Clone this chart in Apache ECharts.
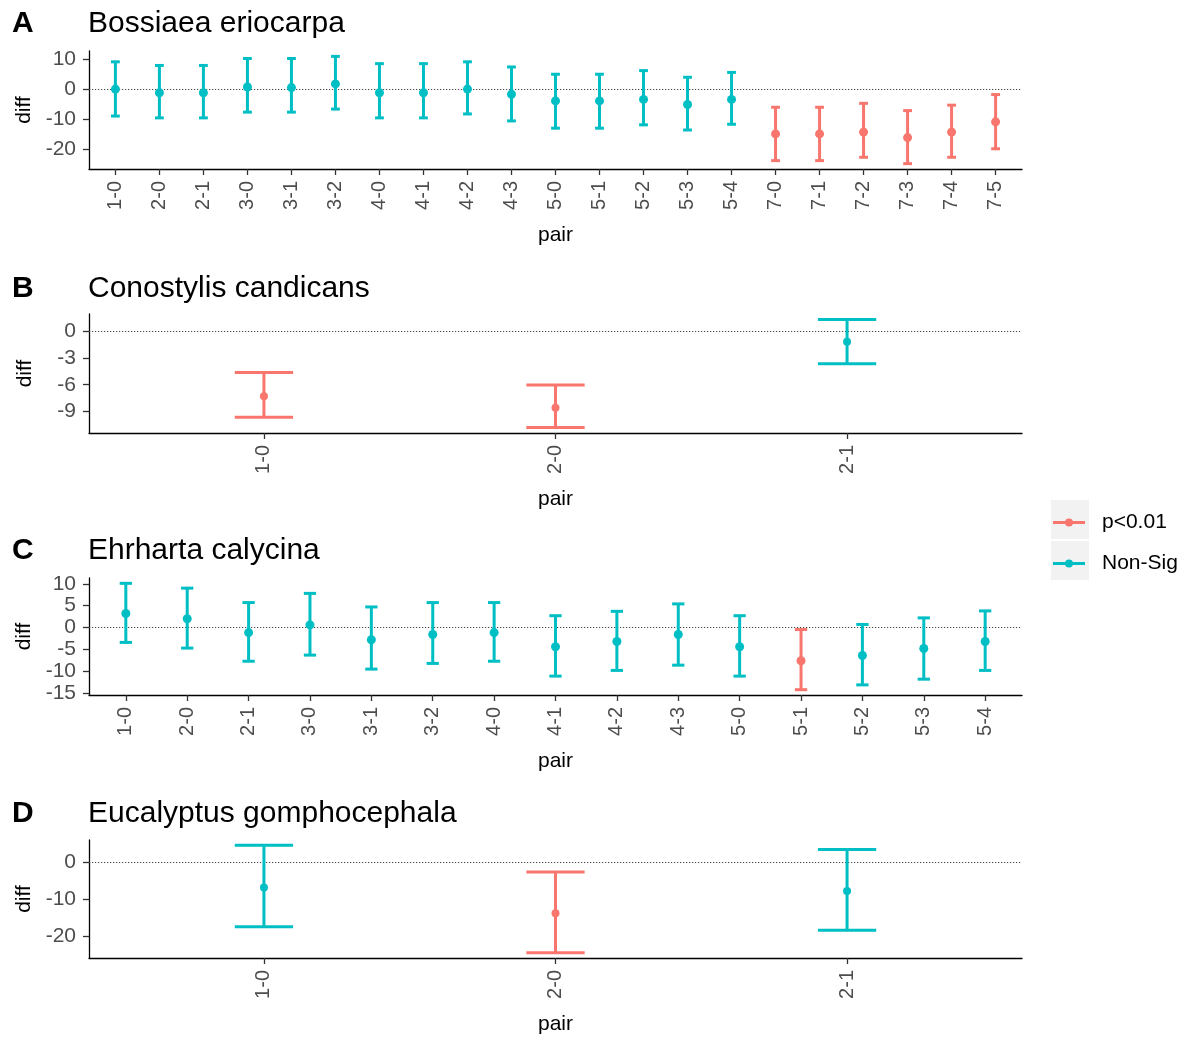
<!DOCTYPE html>
<html><head><meta charset="utf-8">
<script src="https://cdn.jsdelivr.net/npm/echarts@6/dist/echarts.min.js"></script>
<style>html,body{margin:0;padding:0;background:#fff}#c{width:1190px;height:1039px}</style>
</head><body><div id="c"></div>
<script>
// ---------- Data ----------
const pairsA = ['1-0','2-0','2-1','3-0','3-1','3-2','4-0','4-1','4-2','4-3','5-0','5-1','5-2','5-3','5-4','7-0','7-1','7-2','7-3','7-4','7-5'];
const diffA = [0, -1.2, -1.2, 0.7, 0.5, 1.7, -1.2, -1.2, 0, -1.7, -3.9, -3.9, -3.4, -5.1, -3.4, -14.8, -14.8, -14.2, -16.0, -14.2, -10.8];
const lwrA  = [-8.9, -9.5, -9.5, -7.6, -7.6, -6.6, -9.5, -9.5, -8.2, -10.5, -12.9, -12.9, -11.8, -13.5, -11.6, -23.6, -23.6, -22.5, -24.6, -22.5, -19.7];
const uprA  = [9.0, 7.8, 7.8, 10.1, 10.1, 10.8, 8.4, 8.4, 9.0, 7.3, 4.9, 4.9, 6.1, 3.9, 5.5, -6.0, -6.0, -4.7, -7.1, -5.3, -1.8];
const sigA  = ['Non-Sig','Non-Sig','Non-Sig','Non-Sig','Non-Sig','Non-Sig','Non-Sig','Non-Sig','Non-Sig','Non-Sig','Non-Sig','Non-Sig','Non-Sig','Non-Sig','Non-Sig','p<0.01','p<0.01','p<0.01','p<0.01','p<0.01','p<0.01'];
const ticksA = [-20, -10, 0, 10];

const pairsB = ['1-0','2-0','2-1'];
const diffB = [-7.3, -8.6, -1.17];
const lwrB  = [-9.66, -10.83, -3.64];
const uprB  = [-4.62, -6.02, 1.36];
const sigB  = ['p<0.01','p<0.01','Non-Sig'];
const ticksB = [-9, -6, -3, 0];

const pairsC = ['1-0','2-0','2-1','3-0','3-1','3-2','4-0','4-1','4-2','4-3','5-0','5-1','5-2','5-3','5-4'];
const diffC = [3.2, 2.0, -1.15, 0.6, -2.8, -1.6, -1.15, -4.4, -3.2, -1.6, -4.4, -7.6, -6.4, -4.8, -3.2];
const lwrC  = [-3.4, -4.7, -7.7, -6.3, -9.5, -8.2, -7.7, -11.1, -9.8, -8.6, -11.1, -14.2, -13.1, -11.8, -9.8];
const uprC  = [10.1, 9.0, 5.7, 7.8, 4.7, 5.7, 5.7, 2.7, 3.7, 5.4, 2.7, -0.46, 0.7, 2.2, 3.8];
const sigC  = ['Non-Sig','Non-Sig','Non-Sig','Non-Sig','Non-Sig','Non-Sig','Non-Sig','Non-Sig','Non-Sig','Non-Sig','Non-Sig','p<0.01','Non-Sig','Non-Sig','Non-Sig'];
const ticksC = [-15, -10, -5, 0, 5, 10];

const pairsD = ['1-0','2-0','2-1'];
const diffD = [-6.8, -13.8, -7.8];
const lwrD  = [-17.5, -24.5, -18.4];
const uprD  = [4.6, -2.6, 3.5];
const sigD  = ['Non-Sig','p<0.01','Non-Sig'];
const ticksD = [-20, -10, 0];

const groups = ['p<0.01', 'Non-Sig'];
const groupColors = {'p<0.01': '#F8766D', 'Non-Sig': '#00BFC4'};

// ---------- Layout ----------
const FONT = '"Liberation Sans", Arial, sans-serif';
const panels = [
  {letter:'A', title:'Bossiaea eriocarpa',      pairs:pairsA, diff:diffA, lwr:lwrA, upr:uprA, sig:sigA, ticks:ticksA, top:51,  height:118, titleTop:9,   r:4.5},
  {letter:'B', title:'Conostylis candicans',    pairs:pairsB, diff:diffB, lwr:lwrB, upr:uprB, sig:sigB, ticks:ticksB, top:314, height:119, titleTop:274, r:4},
  {letter:'C', title:'Ehrharta calycina',       pairs:pairsC, diff:diffC, lwr:lwrC, upr:uprC, sig:sigC, ticks:ticksC, top:578, height:117, titleTop:536, r:4.5},
  {letter:'D', title:'Eucalyptus gomphocephala', pairs:pairsD, diff:diffD, lwr:lwrD, upr:uprD, sig:sigD, ticks:ticksD, top:840, height:118, titleTop:799, r:4}
];

function renderBar(color, r) {
  return function (params, api) {
    const i = api.value(0);
    const c = api.coord([i, api.value(1)]);
    const lo = api.coord([i, api.value(2)]);
    const hi = api.coord([i, api.value(3)]);
    const hw = api.size([0.1, 0])[0];
    const st = {stroke: color, lineWidth: 3, fill: null};
    return {
      type: 'group',
      children: [
        {type: 'line', shape: {x1: c[0], y1: hi[1], x2: c[0], y2: lo[1]}, style: st},
        {type: 'line', shape: {x1: c[0] - hw, y1: hi[1], x2: c[0] + hw, y2: hi[1]}, style: st},
        {type: 'line', shape: {x1: c[0] - hw, y1: lo[1], x2: c[0] + hw, y2: lo[1]}, style: st},
        {type: 'circle', shape: {cx: c[0], cy: c[1], r: r}, style: {fill: color, stroke: null}}
      ]
    };
  };
}

const grid = [], xAxis = [], yAxis = [], series = [], title = [];
panels.forEach((p, k) => {
  const lo = Math.min(...p.lwr), hi = Math.max(...p.upr);
  const pad = (hi - lo) * 0.05;
  grid.push({left: 89, right: 168, top: p.top, height: p.height});
  const n = p.pairs.length;
  const idx = p.pairs.map((_, i) => i);
  xAxis.push({
    type: 'value', gridIndex: k, min: -0.6, max: n - 0.4,
    splitLine: {show: false},
    axisLine: {show: true, onZero: false, lineStyle: {color: '#000', width: 1.3}},
    axisTick: {show: true, customValues: idx, length: 6, lineStyle: {color: '#333', width: 1.3}},
    axisLabel: {customValues: idx, rotate: 90, margin: 12, fontSize: 20, color: '#4D4D4D', fontFamily: FONT,
      formatter: v => p.pairs[Math.round(v)]},
    name: 'pair', nameLocation: 'middle', nameGap: 56,
    nameTextStyle: {fontSize: 21, color: '#000', fontFamily: FONT}
  });
  yAxis.push({
    type: 'value', gridIndex: k, min: lo - pad, max: hi + pad,
    splitLine: {show: false},
    axisLine: {show: true, onZero: false, lineStyle: {color: '#000', width: 1.3}},
    axisTick: {show: true, customValues: p.ticks, length: 6, lineStyle: {color: '#333', width: 1.3}},
    axisLabel: {customValues: p.ticks, margin: 13, fontSize: 21, color: '#4D4D4D', fontFamily: FONT},
    name: 'diff', nameLocation: 'middle', nameGap: 53,
    nameTextStyle: {fontSize: 21, color: '#000', fontFamily: FONT}
  });
  groups.forEach(g => {
    const data = [];
    p.pairs.forEach((_, i) => { if (p.sig[i] === g) data.push([i, p.diff[i], p.lwr[i], p.upr[i]]); });
    const s = {
      type: 'custom', name: g, xAxisIndex: k, yAxisIndex: k, z: 3,
      itemStyle: {color: groupColors[g]},
      encode: {x: 0, y: [1, 2, 3]},
      renderItem: renderBar(groupColors[g], p.r),
      data: data, animation: false
    };
    if (g === 'Non-Sig') {
      s.markLine = {
        silent: true, symbol: ['none', 'none'], z: 1, animation: false,
        label: {show: false},
        lineStyle: {type: [1.2, 1.8], color: '#444', width: 1.1},
        emphasis: {disabled: true},
        data: [{yAxis: 0}]
      };
    }
    series.push(s);
  });
  title.push({text: p.letter, left: 12, top: p.titleTop, padding: 0,
    textStyle: {fontSize: 30, fontWeight: 'bold', color: '#000', fontFamily: FONT}});
  title.push({text: p.title, left: 88, top: p.titleTop, padding: 0,
    textStyle: {fontSize: 30, fontWeight: 'normal', color: '#000', fontFamily: FONT}});
});

const icon = 'path://M0,3.5 L32,3.5 L32,6.5 L0,6.5 Z M12,5 A4,4 0 1,1 20,5 A4,4 0 1,1 12,5 Z';

const option = {
  backgroundColor: '#fff',
  animation: false,
  title: title,
  grid: grid, xAxis: xAxis, yAxis: yAxis, series: series,
  legend: {
    orient: 'vertical', left: 1053, top: 512, padding: 0,
    itemWidth: 32, itemHeight: 8, itemGap: 20,
    selectedMode: false,
    textStyle: {fontSize: 21, color: '#000', fontFamily: FONT, padding: [0, 0, 0, 12]},
    data: groups.map(g => ({name: g, icon: icon}))
  },
  graphic: [
    {type: 'rect', z: -1, shape: {x: 1051, y: 500, width: 38, height: 39}, style: {fill: '#F2F2F2'}},
    {type: 'rect', z: -1, shape: {x: 1051, y: 541, width: 38, height: 39}, style: {fill: '#F2F2F2'}}
  ]
};

const chart = echarts.init(document.getElementById('c'), null, {renderer: 'canvas'});
chart.setOption(option);
</script>
</body></html>
